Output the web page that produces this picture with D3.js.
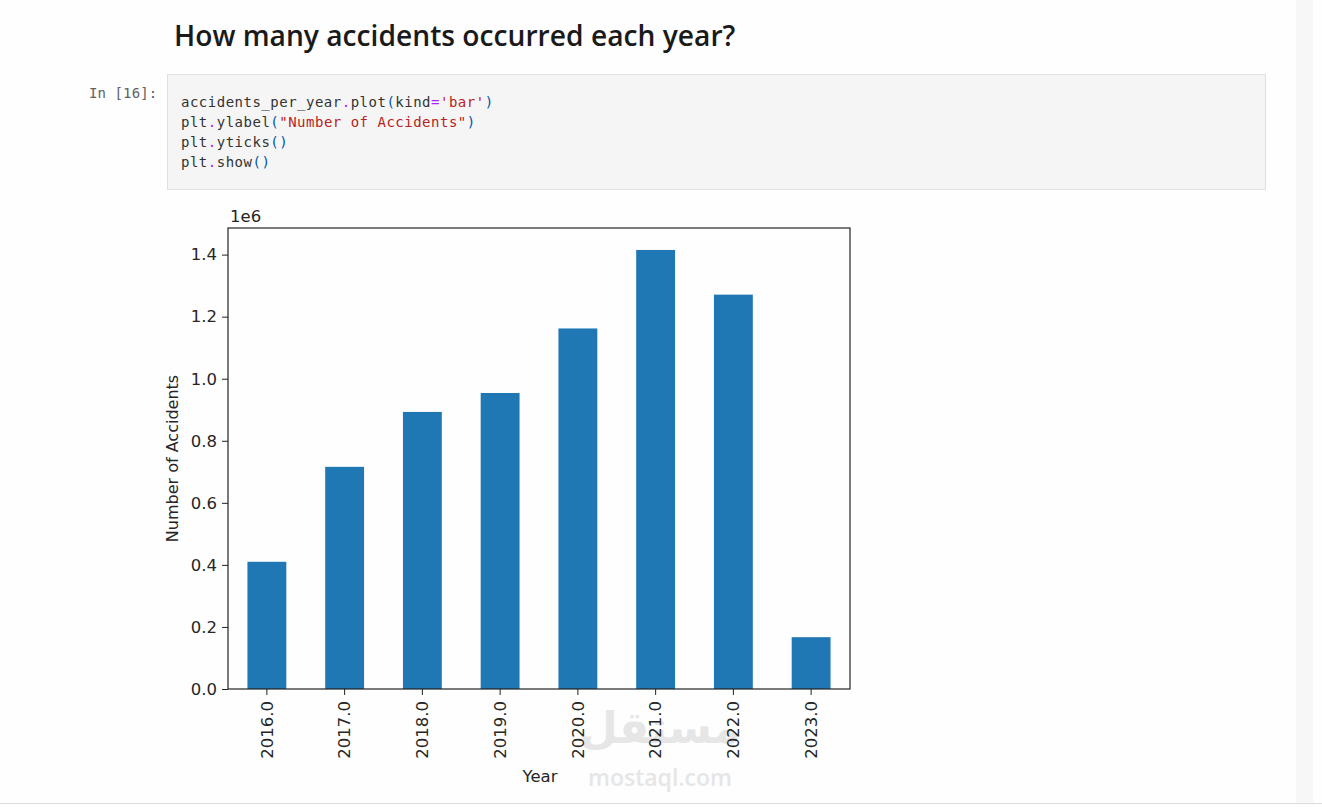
<!DOCTYPE html>
<html><head><meta charset="utf-8">
<script src="https://cdn.jsdelivr.net/npm/d3@7"></script>
<style>
html,body{margin:0;padding:0;background:#fff;overflow:hidden}
svg{display:block}
</style></head>
<body>
<svg id="page" width="1322" height="807"></svg>
<script>
const years = ["2016.0","2017.0","2018.0","2019.0","2020.0","2021.0","2022.0","2023.0"];
const accidents = [0.410, 0.716, 0.893, 0.954, 1.162, 1.415, 1.271, 0.167]; // in units of 1e6
const yTicks = [0.0, 0.2, 0.4, 0.6, 0.8, 1.0, 1.2, 1.4];
const codeLines = [
  [["accidents_per_year","#333"],[".","#aa22ff"],["plot","#333"],["(","#0055aa"],["kind","#333"],["=","#aa22ff"],["'bar'","#ba2121"],[")","#0055aa"]],
  [["plt","#333"],[".","#aa22ff"],["ylabel","#333"],["(","#0055aa"],["\"Number of Accidents\"","#ba2121"],[")","#0055aa"]],
  [["plt","#333"],[".","#aa22ff"],["yticks","#333"],["()","#0055aa"]],
  [["plt","#333"],[".","#aa22ff"],["show","#333"],["()","#0055aa"]]
];

const svg = d3.select("#page");
// page chrome
svg.append("rect").attr("x",0).attr("y",0).attr("width",1322).attr("height",807).attr("fill","#fefefe");
svg.append("rect").attr("x",1296).attr("y",0).attr("width",17).attr("height",803).attr("fill","#f7f7f7");
svg.append("line").attr("x1",0).attr("x2",1322).attr("y1",803.5).attr("y2",803.5).attr("stroke","#dcdcdc");

svg.append("text").attr("x",174).attr("y",46).text("How many accidents occurred each year?")
  .attr("font-family","'Open Sans','Noto Sans',sans-serif").attr("font-weight",600)
  .attr("font-size",28.2).attr("fill","#1a1a1a");

svg.append("text").attr("x",89).attr("y",98).text("In [16]:")
  .attr("font-family","'DejaVu Sans Mono','Liberation Mono',monospace").attr("font-size",14)
  .attr("letter-spacing",0.1).attr("fill","#616161");

svg.append("rect").attr("x",167.5).attr("y",74.5).attr("width",1098).attr("height",115)
  .attr("fill","#f5f5f5").attr("stroke","#e0e0e0");

codeLines.forEach((line,i)=>{
  const t = svg.append("text").attr("x",181).attr("y",107+i*20)
    .attr("font-family","'DejaVu Sans Mono','Liberation Mono',monospace").attr("font-size",14)
    .attr("letter-spacing",0.5).attr("xml:space","preserve");
  line.forEach(([s,c])=>t.append("tspan").attr("fill",c).text(s));
});

// chart
const m = {left:228, top:228, right:850, bottom:689};
const x = d3.scaleBand().domain(years).range([m.left,m.right]).paddingInner(0.5).paddingOuter(0.25);
const yMax = d3.max(accidents)*1.05;
const y = d3.scaleLinear().domain([0,yMax]).range([m.bottom,m.top]);

// watermark (behind labels)
svg.append("text").attr("x",660).attr("y",743).attr("text-anchor","middle").text("مستقل")
  .attr("font-family","'Noto Sans','DejaVu Sans',sans-serif").attr("font-weight",700)
  .attr("font-size",44).attr("fill","#e6e6e6");
svg.append("text").attr("x",660).attr("y",786).attr("text-anchor","middle").text("mostaql.com")
  .attr("font-family","'Open Sans','DejaVu Sans',sans-serif").attr("font-weight",600)
  .attr("font-size",23).attr("fill","#e6e6e6");

const gc = svg.append("g");
gc.selectAll("rect.bar").data(accidents).join("rect").attr("class","bar")
  .attr("x",(d,i)=>x(years[i])).attr("width",x.bandwidth())
  .attr("y",d=>y(d)).attr("height",d=>y(0)-y(d)).attr("fill","#1f77b4");

gc.append("rect").attr("x",m.left).attr("y",m.top).attr("width",m.right-m.left).attr("height",m.bottom-m.top)
  .attr("fill","none").attr("stroke","#222").attr("stroke-width",1.2);

const font = "'DejaVu Sans',sans-serif";
const fs = 16.5;
const yAxis = gc.append("g").attr("transform",`translate(${m.left},0)`)
  .call(d3.axisLeft(y).tickValues(yTicks).tickFormat(d3.format(".1f")).tickSize(6).tickPadding(5));
yAxis.select(".domain").remove();
yAxis.selectAll("text").attr("font-family",font).attr("font-size",fs).attr("fill","#262626");
yAxis.selectAll("line").attr("stroke","#222");

const xAxis = gc.append("g").attr("transform",`translate(0,${m.bottom})`)
  .call(d3.axisBottom(x).tickSize(6).tickPadding(5));
xAxis.select(".domain").remove();
xAxis.selectAll("line").attr("stroke","#222");
xAxis.selectAll("text").attr("font-family",font).attr("font-size",fs).attr("fill","#262626")
  .attr("transform","rotate(-90)").attr("text-anchor","end").attr("dy","0.35em").attr("x",-12).attr("y",0);

gc.append("text").attr("x",m.left+2).attr("y",222).text("1e6")
  .attr("font-family",font).attr("font-size",fs).attr("fill","#262626");

gc.append("text").attr("transform",`translate(178,${(m.top+m.bottom)/2}) rotate(-90)`)
  .attr("text-anchor","middle").text("Number of Accidents")
  .attr("font-family",font).attr("font-size",16).attr("fill","#262626");

gc.append("text").attr("x",540).attr("y",782).attr("text-anchor","middle").text("Year")
  .attr("font-family",font).attr("font-size",fs).attr("fill","#262626");
</script>
</body></html>
